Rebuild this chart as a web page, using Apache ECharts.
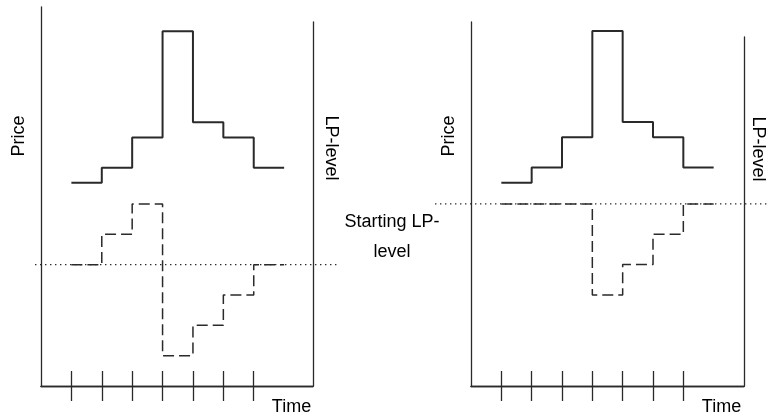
<!DOCTYPE html>
<html><head><meta charset="utf-8">
<script src="https://cdn.jsdelivr.net/npm/echarts@6/dist/echarts.min.js"></script>
<style>html,body{margin:0;padding:0;background:#fff}#c{width:769px;height:417px}</style>
</head><body><div id="c"></div>
<script>
// Time boundaries (each value holds until the next time step)
const timeSteps = [1, 2, 3, 4, 5, 6, 7, 8];
const tickTimes = [1, 2, 3, 4, 5, 6, 7];
// Price path (same in both panels)
const price = [13.4, 14.4, 16.4, 23.4, 17.4, 16.4, 14.4, 14.4];
// LP-level paths
const lpLeft = [8, 10, 12, 2, 4, 6, 8, 8];
const lpRight = [12, 12, 12, 6, 8, 10, 12, 12];
// Starting LP-level (dotted reference line), drawn across its whole span
const startLPLeft = 8;
const startLPRight = 12;
const dottedSpan = [0, 1];
// Labels
const priceLabel = 'Price';
const lpLabel = 'LP-level';
const timeLabel = 'Time';
const startLabel = 'Starting LP-\nlevel';

const INK = '#2a2a2a';
const FONT = 'Liberation Sans, Arial, sans-serif';
const X_MAX_L = 8.95;
const X_MAX_R = 9;

function pairs(xs, ys) { return xs.map((x, i) => [x, ys[i]]); }

const grids = [
  { left: 41, top: 7, width: 272, height: 379 },
  { left: 41, top: 22, width: 272, height: 364 },
  { left: 471, top: 22, width: 273, height: 364 },
  { left: 471, top: 37, width: 273, height: 349 },
  // wider bands for the dotted starting level lines
  { left: 35, top: 22, width: 304, height: 364 },
  { left: 435, top: 37, width: 334, height: 349 }
];

function tickAxis(grid, inside, max) {
  return {
    type: 'value', gridIndex: grid, position: 'bottom', min: 0, max: max,
    axisLine: { show: true, onZero: false, lineStyle: { color: INK, width: 1.3 } },
    axisTick: { show: true, inside: inside, length: 15, customValues: tickTimes,
      lineStyle: { color: INK, width: 1.3 } },
    axisLabel: { show: false }, splitLine: { show: false }
  };
}
function hiddenX(grid, max) {
  return { type: 'value', gridIndex: grid, min: 0, max: max, show: false };
}
function hiddenY(grid, max) {
  return { type: 'value', gridIndex: grid, min: 0, max: max, show: false };
}
function yAx(grid, pos, max) {
  return {
    type: 'value', gridIndex: grid, position: pos, min: 0, max: max,
    axisLine: { show: true, onZero: false, lineStyle: { color: INK, width: 1.3 } },
    axisTick: { show: false }, axisLabel: { show: false }, splitLine: { show: false }
  };
}

const dotted = { color: INK, width: 1.4, type: [1.4, 3.6] };
const dashed = { color: INK, width: 1.5, type: [11, 5] };
const solid = { color: INK, width: 2 };

function lineSeries(xi, yi, data, style, step) {
  return {
    type: 'line', xAxisIndex: xi, yAxisIndex: yi, data: data, step: step || false,
    showSymbol: false, symbol: 'none', clip: false, silent: true, animation: false,
    lineStyle: style
  };
}

const labelStyle = (t) => ({ text: t, font: '18px ' + FONT, fill: '#000',
  textAlign: 'center', textVerticalAlign: 'middle' });

const option = {
  animation: false,
  backgroundColor: '#fff',
  grid: grids,
  xAxis: [tickAxis(0, false, X_MAX_L), tickAxis(0, true, X_MAX_L), hiddenX(1, X_MAX_L),
          tickAxis(2, false, X_MAX_R), tickAxis(2, true, X_MAX_R), hiddenX(3, X_MAX_R),
          hiddenX(4, 1), hiddenX(5, 1)],
  yAxis: [yAx(0, 'left', 25), yAx(1, 'right', 24), yAx(2, 'left', 24), yAx(3, 'right', 23),
          hiddenY(4, 24), hiddenY(5, 23)],
  series: [
    lineSeries(6, 4, [[dottedSpan[0], startLPLeft], [dottedSpan[1], startLPLeft]], dotted),
    lineSeries(2, 1, pairs(timeSteps, lpLeft), dashed, 'end'),
    lineSeries(0, 0, pairs(timeSteps, price), solid, 'end'),
    lineSeries(7, 5, [[dottedSpan[0], startLPRight], [dottedSpan[1], startLPRight]], dotted),
    lineSeries(5, 3, pairs(timeSteps, lpRight), dashed, 'end'),
    lineSeries(3, 2, pairs(timeSteps, price), solid, 'end')
  ],
  graphic: [
    { type: 'text', x: 19, y: 136, rotation: Math.PI / 2, style: labelStyle(priceLabel) },
    { type: 'text', x: 331, y: 148, rotation: -Math.PI / 2, style: labelStyle(lpLabel) },
    { type: 'text', x: 449, y: 136, rotation: Math.PI / 2, style: labelStyle(priceLabel) },
    { type: 'text', x: 758, y: 149, rotation: -Math.PI / 2, style: labelStyle(lpLabel) },
    { type: 'text', x: 291.5, y: 407, style: labelStyle(timeLabel) },
    { type: 'text', x: 721.5, y: 407, style: labelStyle(timeLabel) },
    { type: 'text', x: 392, y: 237, style: Object.assign(labelStyle(startLabel), { lineHeight: 30 }) }
  ]
};

const chart = echarts.init(document.getElementById('c'), null, { renderer: 'canvas' });
chart.setOption(option);
</script></body></html>
